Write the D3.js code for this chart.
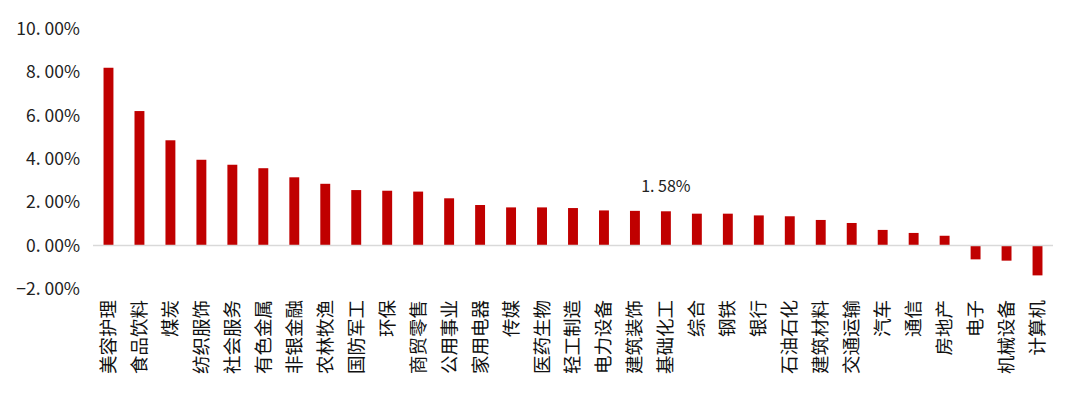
<!DOCTYPE html>
<html>
<head>
<meta charset="utf-8">
<script src="https://cdn.jsdelivr.net/npm/d3@7"></script>
<style>
  html, body { margin: 0; padding: 0; background: #fff; }
</style>
</head>
<body>
<div id="chart"></div>
<script>
// industries, sorted by return (%)
const industries = ["美容护理", "食品饮料", "煤炭", "纺织服饰", "社会服务", "有色金属", "非银金融", "农林牧渔",
  "国防军工", "环保", "商贸零售", "公用事业", "家用电器", "传媒", "医药生物", "轻工制造", "电力设备",
  "建筑装饰", "基础化工", "综合", "钢铁", "银行", "石油石化", "建筑材料", "交通运输", "汽车", "通信",
  "房地产", "电子", "机械设备", "计算机"];
const returns = [8.21, 6.21, 4.86, 3.96, 3.73, 3.57, 3.15, 2.85,
  2.56, 2.53, 2.49, 2.18, 1.87, 1.76, 1.76, 1.73, 1.62,
  1.60, 1.58, 1.47, 1.47, 1.39, 1.35, 1.18, 1.04, 0.72, 0.58,
  0.45, -0.64, -0.70, -1.38];
const yTicks = [-2, 0, 2, 4, 6, 8, 10];
// only one bar carries a value label in the original
const labelled = ["基础化工"];

const width = 1080, height = 412;
const margin = {top: 29, right: 27, left: 93};
const plotBottom = 288.8; // pixel row of -2%

const data = industries.map((name, i) => ({name, value: returns[i]}));

const svg = d3.select("#chart").append("svg")
    .attr("width", width)
    .attr("height", height)
    .attr("font-family", "'Noto Sans CJK SC', 'Liberation Sans', sans-serif");

const x = d3.scaleBand()
    .domain(industries)
    .range([margin.left, width - margin.right])
    .paddingInner(0.68)
    .paddingOuter(0.34);

const y = d3.scaleLinear()
    .domain([-2, 10])
    .range([plotBottom, margin.top]);

// y tick labels, no axis line
const fmt = d3.format(".2%");
svg.append("g")
  .selectAll("text")
  .data(yTicks)
  .join("text")
    .attr("x", 80)
    .attr("y", d => y(d))
    .attr("dy", "0.35em")
    .attr("text-anchor", "end")
    .attr("font-size", 17.5)
    .attr("fill", "#222")
    .text(d => fmt(d / 100).replace(".", ". "));

// bars
svg.append("g")
  .selectAll("rect")
  .data(data)
  .join("rect")
    .attr("x", d => x(d.name))
    .attr("width", x.bandwidth())
    .attr("y", d => y(Math.max(0, d.value)))
    .attr("height", d => Math.abs(y(d.value) - y(0)))
    .attr("fill", "#C00000");

// zero line
svg.append("line")
    .attr("x1", margin.left)
    .attr("x2", width - margin.right)
    .attr("y1", y(0))
    .attr("y2", y(0))
    .attr("stroke", "#d9d9d9")
    .attr("stroke-width", 1.5);

// category labels, rotated, reading upwards
svg.append("g")
  .selectAll("text")
  .data(industries)
  .join("text")
    .attr("transform", d => `translate(${x(d) + x.bandwidth() / 2},300) rotate(-90)`)
    .attr("dy", "0.35em")
    .attr("text-anchor", "end")
    .attr("font-size", 18.5)
    .attr("fill", "#111")
    .text(d => d);

// value label
svg.append("g")
  .selectAll("text")
  .data(data.filter(d => labelled.includes(d.name)))
  .join("text")
    .attr("x", d => x(d.name) + x.bandwidth() / 2)
    .attr("y", d => y(d.value) - 19)
    .attr("text-anchor", "middle")
    .attr("font-size", 16)
    .attr("fill", "#222")
    .text(d => fmt(d.value / 100).replace(".", ". "));
</script>
</body>
</html>
